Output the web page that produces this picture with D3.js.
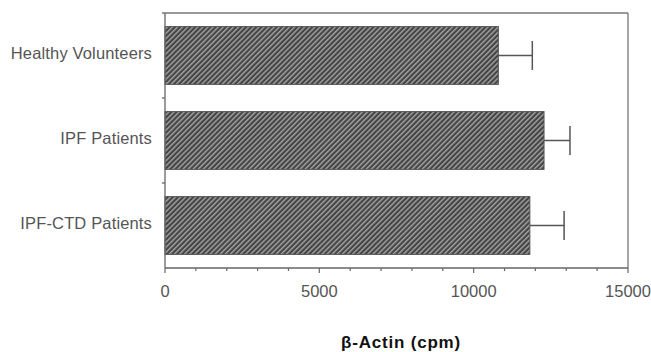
<!DOCTYPE html>
<html>
<head>
<meta charset="utf-8">
<script src="https://cdn.jsdelivr.net/npm/d3@7"></script>
<style>
  body { margin: 0; background: #fff; }
  text { font-family: "Liberation Sans", Arial, sans-serif; fill: #555; }
</style>
</head>
<body>
<script>
// data
const groups = ["Healthy Volunteers", "IPF Patients", "IPF-CTD Patients"];
const means = [10800, 12280, 11820];
const errs = [1100, 840, 1110];
const xTicks = [0, 5000, 10000, 15000];

const width = 651, height = 352;
const margin = { top: 13, right: 23, bottom: 84, left: 165 };
const innerW = width - margin.left - margin.right;
const innerH = height - margin.top - margin.bottom;

const svg = d3.select("body").append("svg")
  .attr("width", width)
  .attr("height", height);

// hatch fill for the bars (//// direction)
const defs = svg.append("defs");
const pat = defs.append("pattern")
  .attr("id", "hatch")
  .attr("patternUnits", "userSpaceOnUse")
  .attr("width", 3.6)
  .attr("height", 3.6)
  .attr("patternTransform", "rotate(45)");
pat.append("rect").attr("width", 3.6).attr("height", 3.6).attr("fill", "#444");
pat.append("rect").attr("width", 1.4).attr("height", 3.6).attr("fill", "#a5a5a5");

const g = svg.append("g")
  .attr("transform", `translate(${margin.left},${margin.top})`);

const x = d3.scaleLinear().domain([0, 15000]).range([0, innerW]);
const y = d3.scaleBand().domain(groups).range([0, innerH]).paddingInner(0.32).paddingOuter(0.16);

// frame: top and right lines
g.append("line")
  .attr("x1", 0).attr("x2", innerW).attr("y1", 0).attr("y2", 0)
  .attr("stroke", "#777").attr("stroke-width", 1.3);
g.append("line")
  .attr("x1", innerW).attr("x2", innerW).attr("y1", 0).attr("y2", innerH)
  .attr("stroke", "#777").attr("stroke-width", 1.3);

// bars
g.selectAll("rect.bar")
  .data(groups)
  .enter().append("rect")
  .attr("class", "bar")
  .attr("x", 0)
  .attr("y", d => y(d))
  .attr("width", (d, i) => x(means[i]))
  .attr("height", y.bandwidth())
  .attr("fill", "url(#hatch)")
  .attr("stroke", "#555")
  .attr("stroke-width", 1);

// error bars
const eb = g.selectAll("g.err")
  .data(groups)
  .enter().append("g")
  .attr("class", "err");
eb.append("line")
  .attr("x1", (d, i) => x(means[i]))
  .attr("x2", (d, i) => x(means[i] + errs[i]))
  .attr("y1", d => y(d) + y.bandwidth() / 2)
  .attr("y2", d => y(d) + y.bandwidth() / 2)
  .attr("stroke", "#555").attr("stroke-width", 1.5);
eb.append("line")
  .attr("x1", (d, i) => x(means[i] + errs[i]))
  .attr("x2", (d, i) => x(means[i] + errs[i]))
  .attr("y1", d => y(d) + y.bandwidth() / 2 - 14.5)
  .attr("y2", d => y(d) + y.bandwidth() / 2 + 14.5)
  .attr("stroke", "#555").attr("stroke-width", 1.5);

// x axis with minor ticks
const xAxis = g.append("g")
  .attr("transform", `translate(0,${innerH})`);
xAxis.append("line")
  .attr("x1", 0).attr("x2", innerW)
  .attr("stroke", "#666").attr("stroke-width", 1.3);
xAxis.selectAll("line.minor")
  .data(d3.range(0, 15001, 1000))
  .enter().append("line")
  .attr("class", "minor")
  .attr("x1", d => x(d)).attr("x2", d => x(d))
  .attr("y1", 0).attr("y2", d => xTicks.includes(d) ? 5 : 3)
  .attr("stroke", "#666").attr("stroke-width", 1.2);
xAxis.selectAll("text")
  .data(xTicks)
  .enter().append("text")
  .attr("x", d => x(d))
  .attr("y", 29)
  .attr("text-anchor", "middle")
  .attr("font-size", 16.5)
  .text(d => d);

// y axis
const yAxis = g.append("g");
yAxis.append("line")
  .attr("x1", 0).attr("x2", 0).attr("y1", 0).attr("y2", innerH)
  .attr("stroke", "#666").attr("stroke-width", 1.3);
yAxis.selectAll("line.tick")
  .data([0, 1, 2])
  .enter().append("line")
  .attr("class", "tick")
  .attr("x1", -3).attr("x2", 0)
  .attr("y1", d => d * innerH / 3).attr("y2", d => d * innerH / 3)
  .attr("stroke", "#666").attr("stroke-width", 1.3);
yAxis.selectAll("text")
  .data(groups)
  .enter().append("text")
  .attr("x", -13)
  .attr("y", d => y(d) + y.bandwidth() / 2 + 3)
  .attr("text-anchor", "end")
  .attr("font-size", 16.5)
  .attr("letter-spacing", 0.15)
  .text(d => d);

// axis title
svg.append("text")
  .attr("x", 401)
  .attr("y", 348)
  .attr("text-anchor", "middle")
  .attr("font-size", 17)
  .attr("font-weight", "bold")
  .attr("letter-spacing", 0.8)
  .style("fill", "#111")
  .text("β-Actin (cpm)");
</script>
</body>
</html>
